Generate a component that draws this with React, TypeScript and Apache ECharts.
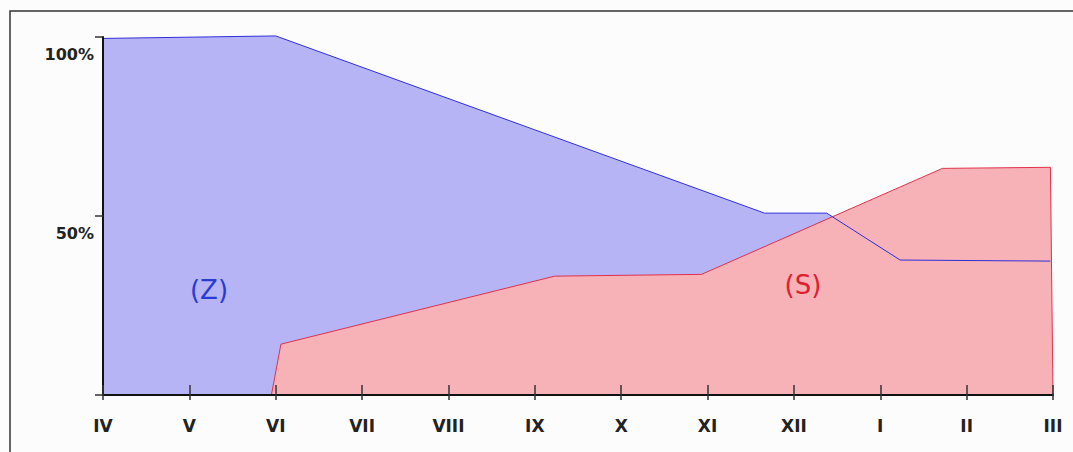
import React, { useEffect, useRef } from "react";
import * as echarts from "echarts";

const months = ["IV", "V", "VI", "VII", "VIII", "IX", "X", "XI", "XII", "I", "II", "III"];
const zX = [0, 2, 7.66, 8.38, 9.23, 10.97];
const zY = [99.6, 100.3, 50.8, 50.8, 37.7, 37.4];
const sX = [1.95, 2.06, 5.23, 6.93, 9.72, 10.97, 11];
const sY = [0, 14.2, 33.2, 33.7, 63.3, 63.6, 0];
const yTicks = [0, 50, 100];

export default function App() {
  const ref = useRef<HTMLDivElement>(null);
  useEffect(() => {
    if (!ref.current) return;
    const chart = echarts.init(ref.current, null, { renderer: "svg" });
    const font = "'DejaVu Sans', Verdana, sans-serif";
    const zData = zX.map((x, i) => [x, zY[i]]);
    const sData = sX.map((x, i) => [x, sY[i]]);
    chart.setOption({
      animation: false,
      backgroundColor: "#fdfcfd",
      grid: { left: 103, right: 20, top: 37, bottom: 57 },
      xAxis: [
        {
          type: "value",
          min: 0,
          max: 11,
          interval: 1,
          z: 20,
          axisLine: { show: true, lineStyle: { color: "#111", width: 2 } },
          axisTick: { show: true, inside: true, length: 10, lineStyle: { color: "#333", width: 1.5 } },
          axisLabel: {
            formatter: (v: number) => months[Math.round(v)] ?? "",
            margin: 22,
            fontFamily: font,
            fontWeight: "bold",
            fontSize: 17,
            color: "#222",
          },
          splitLine: { show: false },
        },
        {
          type: "value",
          position: "bottom",
          min: 0,
          max: 11,
          interval: 1,
          z: 20,
          axisLine: { show: false },
          axisTick: { show: true, inside: false, length: 5, lineStyle: { color: "#333", width: 1.5 } },
          axisLabel: { show: false },
          splitLine: { show: false },
        },
      ],
      yAxis: {
        type: "value",
        min: yTicks[0],
        max: yTicks[2],
        interval: 50,
        z: 20,
        axisLine: { show: true, lineStyle: { color: "#111", width: 2 } },
        axisTick: { show: true, length: 8, lineStyle: { color: "#333", width: 1.5 } },
        axisLabel: {
          formatter: (v: number) => (v === 0 ? "" : v + "%"),
          margin: 9,
          verticalAlign: "top",
          padding: [9, 0, 0, 0],
          fontFamily: font,
          fontWeight: "bold",
          fontSize: 16,
          color: "#222",
        },
        splitLine: { show: false },
      },
      series: [
        {
          type: "line",
          data: zData,
          symbol: "none",
          clip: false,
          lineStyle: { width: 0, opacity: 0 },
          areaStyle: { color: "#b7b4f6", opacity: 1 },
          z: 1,
        },
        {
          type: "line",
          data: sData,
          symbol: "none",
          clip: false,
          lineStyle: { color: "#e2304a", width: 1 },
          areaStyle: { color: "#f6b2b7", opacity: 1 },
          z: 2,
        },
        {
          type: "line",
          data: zData,
          symbol: "none",
          clip: false,
          lineStyle: { color: "#2e2ed8", width: 1 },
          z: 3,
        },
      ],
      graphic: [
        {
          type: "rect",
          shape: { x: 10, y: 11, width: 1080, height: 460 },
          style: { fill: "none", stroke: "#333", lineWidth: 1.5 },
          silent: true,
          z: 100,
        },
        {
          type: "text",
          x: 209,
          y: 290,
          style: {
            text: "(Z)",
            fill: "#2a3bd4",
            font: "26px 'DejaVu Sans', sans-serif",
            textAlign: "center",
            textVerticalAlign: "middle",
          },
          z: 100,
        },
        {
          type: "text",
          x: 803,
          y: 285,
          style: {
            text: "(S)",
            fill: "#dd2030",
            font: "26px 'DejaVu Sans', sans-serif",
            textAlign: "center",
            textVerticalAlign: "middle",
          },
          z: 100,
        },
      ],
    });
    return () => chart.dispose();
  }, []);
  return (
    <div
      ref={ref}
      style={{ position: "fixed", left: 0, top: 0, width: 1073, height: 452, background: "#fff" }}
    />
  );
}
